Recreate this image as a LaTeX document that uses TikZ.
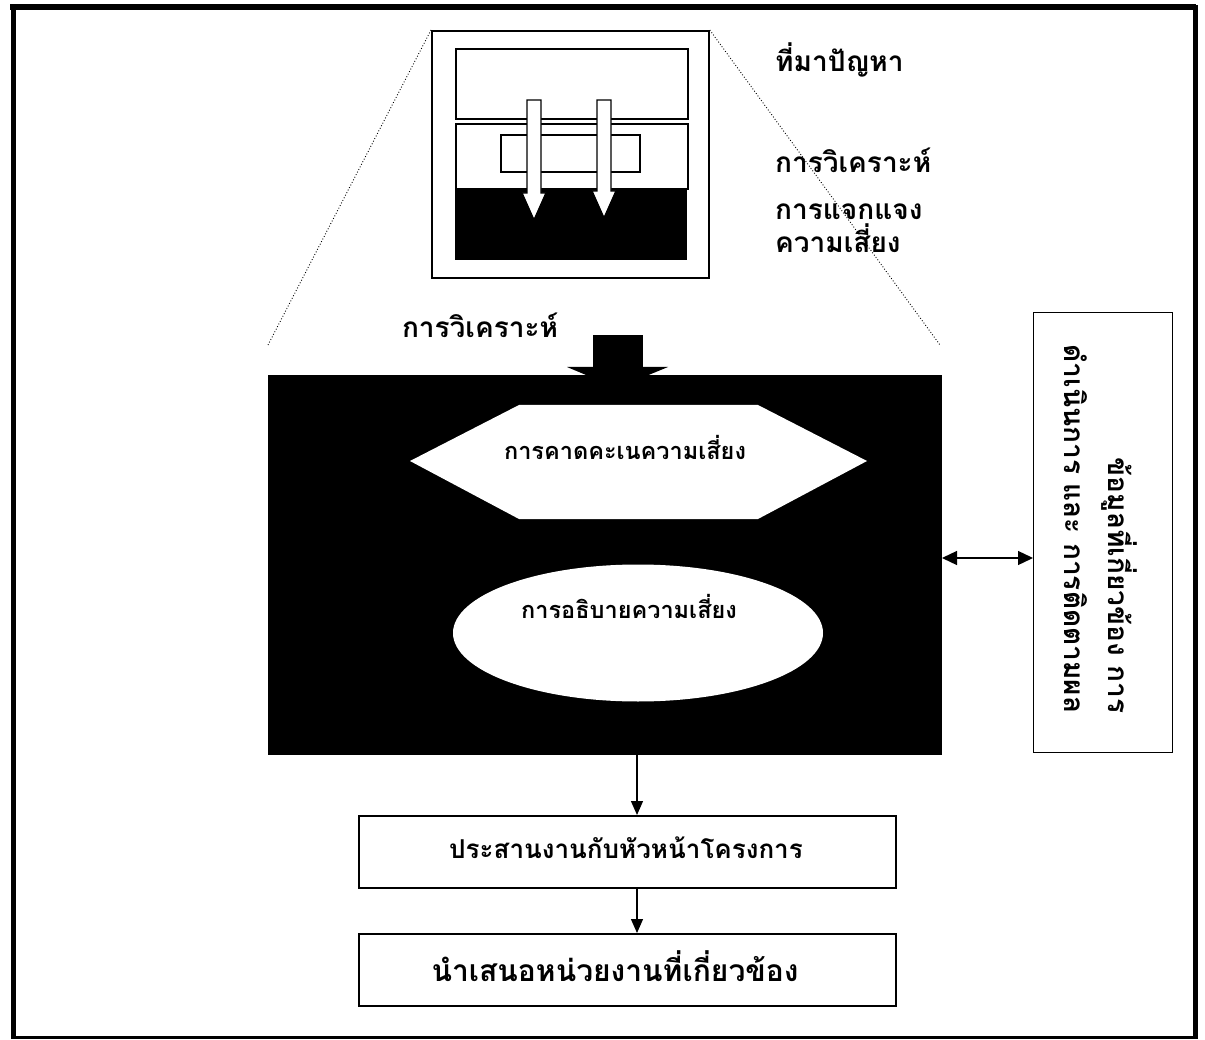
\documentclass[tikz,border=0pt]{standalone}
\usepackage{fontspec}
\newfontfamily\thai[Script=Thai]{Loma}
\usetikzlibrary{shapes.geometric,arrows.meta}

\tikzset{
  thaibig/.style={font=\thai\bfseries\fontsize{28}{33}\selectfont, inner sep=0pt},
  thaimid/.style={font=\thai\bfseries\fontsize{26}{30}\selectfont, inner sep=0pt},
  thaibox/.style={font=\thai\bfseries\fontsize{30}{34}\selectfont, inner sep=0pt},
  thaismall/.style={font=\thai\bfseries\fontsize{23.5}{28}\selectfont, inner sep=0pt},
  thaiside/.style={font=\thai\bfseries\fontsize{28}{44}\selectfont, inner sep=0pt},
  stepbox/.style={draw, line width=1.6pt, rectangle, inner sep=0pt},
  whitearrow/.style={draw, fill=white, line width=1.4pt, line join=miter},
  flow/.style={line width=1.3pt, -{Triangle[length=14pt,width=12pt]}},
  both/.style={line width=1.3pt, {Triangle[length=15pt,width=14pt]}-{Triangle[length=15pt,width=14pt]}},
  guide/.style={line width=0.9pt, dotted}
}

\begin{document}
\begin{tikzpicture}[x=1pt,y=-1pt]
\useasboundingbox (0,0) rectangle (1205,1040);
\fill[white] (0,0) rectangle (1205,1040);

% outer frame
\draw[line width=6pt] (10,7) -- (1196,7);
\draw[line width=5pt] (13,5) -- (13,1039);
\draw[line width=5pt] (1195,5) -- (1195,1039);
\draw[line width=3pt] (11,1037) -- (1197,1037);

% window thumbnail at the top
\node[draw, line width=1.8pt, minimum width=277pt, minimum height=247pt, anchor=north west] (thumb) at (431,30) {};
\node[draw, line width=1.8pt, minimum width=232pt, minimum height=70pt, anchor=north west] (pane1) at (455,48) {};
\node[draw, line width=1.8pt, minimum width=232pt, minimum height=65pt, anchor=north west] (pane2) at (455,123) {};
\node[fill=black, minimum width=232pt, minimum height=72pt, anchor=north west, inner sep=0pt] (pane3) at (455,188) {};
\node[draw, line width=1.8pt, minimum width=139pt, minimum height=37pt, anchor=north west] (inner) at (500,134) {};
% two hollow down arrows
\draw[whitearrow] (527,100) -- (541,100) -- (541,193) -- (546,193) -- (534,220) -- (522,193) -- (527,193) -- cycle;
\draw[whitearrow] (597,100) -- (611,100) -- (611,191) -- (616,191) -- (604,218) -- (592,191) -- (597,191) -- cycle;

% labels beside the thumbnail
\node[thaibig, anchor=west] (l1) at (775,60) {ที่มาปัญหา};
\node[thaibig, anchor=west] (l2) at (775,160) {การวิเคราะห์};
\node[thaibig, anchor=west, align=left] (l3) at (775,228) {การแจกแจง\\ความเสี่ยง};

% zoom guide lines
\coordinate (gl) at (268,345);
\coordinate (gr) at (940,345);
\draw[guide] (thumb.north west) -- (gl);
\draw[guide] (thumb.north east) -- (gr);

% analysis panel
\node[fill=black, minimum width=674pt, minimum height=380pt, anchor=north west, inner sep=0pt] (panel) at (268,375) {};
\node[thaibig, anchor=center] (antitle) at (480,325) {การวิเคราะห์};
\fill (593,335) rectangle (643,368);
\fill (567,367) -- (668,367) -- (617,388) -- cycle;

% hexagon: risk estimation
\fill[white] (410,461) -- (519,405) -- (758,405) -- (867,461) -- (758,519) -- (519,519) -- cycle;
\node[thaismall] (hex) at (625,447) {การคาดคะเนความเสี่ยง};

% ellipse: risk description
\node[ellipse, fill=white, minimum width=370pt, minimum height=137pt, inner sep=0pt] (ell) at (638,633) {};
\node[thaismall] (elltxt) at (629,606) {การอธิบายความเสี่ยง};

% side information box
\node[draw, line width=1.4pt, minimum width=139pt, minimum height=440pt, anchor=north west] (side) at (1033,312) {};
\node[thaiside, rotate=-90, align=right] (sidetxt) at (1101,529) {ข้อมูลที่เกี่ยวข้อง การ\\ดำเนินการ และ การติดตามผล};
\draw[both] (942,558) -- (side.west |- 0,558);

% lower steps
\node[stepbox, minimum width=537pt, minimum height=72pt, anchor=north west] (s1) at (358,815) {};
\node[thaimid] (s1t) at (626,848) {ประสานงานกับหัวหน้าโครงการ};
\node[stepbox, minimum width=537pt, minimum height=72pt, anchor=north west] (s2) at (358,933) {};
\node[thaibox] (s2t) at (615,966) {นำเสนอหน่วยงานที่เกี่ยวข้อง};

\draw[flow] (637,755) -- (637,815);
\draw[flow] (637,887) -- (637,933);
\end{tikzpicture}
\end{document}
